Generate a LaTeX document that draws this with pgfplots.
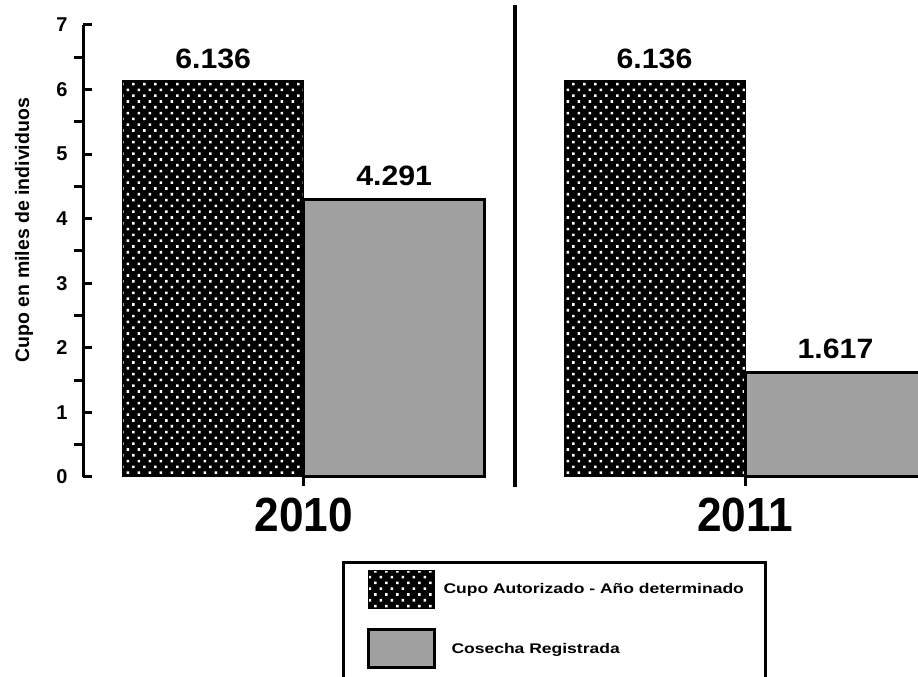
\documentclass[border=0pt]{standalone}
\usepackage{fontspec}
\setmainfont{Liberation Sans}
\newfontfamily\barfont[FakeStretch=1.08]{Liberation Sans Bold}
\newfontfamily\legfont[FakeStretch=1.25]{Liberation Sans Bold}
\newfontfamily\yearfont[FakeStretch=0.92]{Liberation Sans Bold}
\newfontfamily\labfont{Liberation Sans Bold}
\usepackage{pgfplots}
\pgfplotsset{compat=1.18}
\usetikzlibrary{patterns}

\definecolor{barGray}{RGB}{160,160,160}

% white dots on black, staggered rows
\pgfdeclarepatternformonly{whitedots}{\pgfqpoint{-1pt}{-1pt}}{\pgfqpoint{12pt}{12pt}}{\pgfqpoint{11pt}{11.6pt}}{%
  \pgfpathrectangle{\pgfqpoint{0pt}{0pt}}{\pgfqpoint{2.6pt}{2.6pt}}%
  \pgfpathrectangle{\pgfqpoint{5.5pt}{5.8pt}}{\pgfqpoint{2.6pt}{2.6pt}}%
  \pgfusepath{fill}}

\pgfplotsset{boxlegend/.style={legend image code/.code={\draw[##1] (0pt,-19pt) rectangle (66pt,19pt);}}}

\begin{document}
\begin{tikzpicture}
\useasboundingbox (0,0) rectangle (918pt,677pt);
\begin{axis}[
  at={(83pt,200pt)}, anchor=south west,
  scale only axis, width=835pt, height=452pt,
  clip=false,
  xmin=-0.5, xmax=1.392,
  ymin=0, ymax=7,
  ybar=0pt, bar width=181pt,
  boxlegend,
  axis y line*=left,
  axis x line*=bottom,
  x axis line style={draw=none},
  y axis line style={line width=3pt},
  xtick={0,1}, xticklabels={2010,2011},
  ytick={0,1,...,7},
  minor y tick num=1,
  tick align=outside,
  major tick length=9pt, minor tick length=9pt,
  tick style={line width=3pt, black},
  every major y tick/.append style={xshift=9pt},
  /pgf/number format/assume math mode=true,
  yticklabel style={font=\labfont\fontsize{20}{20}\selectfont, xshift=-3pt},
  xticklabel style={font=\yearfont\fontsize{48}{48}\selectfont, yshift=-8pt},
  ylabel={Cupo en miles de individuos},
  ylabel style={font=\labfont\fontsize{19.5}{20}\selectfont,
    at={(axis description cs:-0.0707,0.546)}, anchor=center},
  point meta=explicit symbolic,
  nodes near coords,
  nodes near coords style={font=\barfont\fontsize{28}{28}\selectfont, yshift=9pt},
  legend cell align=left,
  legend style={draw=none, fill=none, inner sep=0pt,
    at={(axis description cs:0.3393,-0.2058)}, anchor=north west,
    row sep=20pt, column sep=8pt,
    font=\legfont\fontsize{14}{14}\selectfont,
    nodes={inner sep=0pt}},
]
\addplot[draw=black, line width=0pt, preaction={fill=black}, pattern=whitedots, pattern color=white]
  coordinates {(0,6.136) [6.136] (1,6.136) [6.136]};
\addlegendentry{Cupo Autorizado - Año determinado}
\addplot[draw=black, line width=3pt, fill=barGray]
  coordinates {(0,4.291) [4.291] (1,1.617) [1.617]};
\addlegendentry{\hspace{8pt}Cosecha Registrada}
\end{axis}
% divider between the two years
\draw[line width=4pt] (515pt,190pt) -- (515pt,672pt);
% legend frame, cut off at the bottom
\draw[line width=3pt] (343pt,-10pt) -- (343pt,114pt) -- (765pt,114pt) -- (765pt,-10pt);
\end{tikzpicture}
\end{document}
